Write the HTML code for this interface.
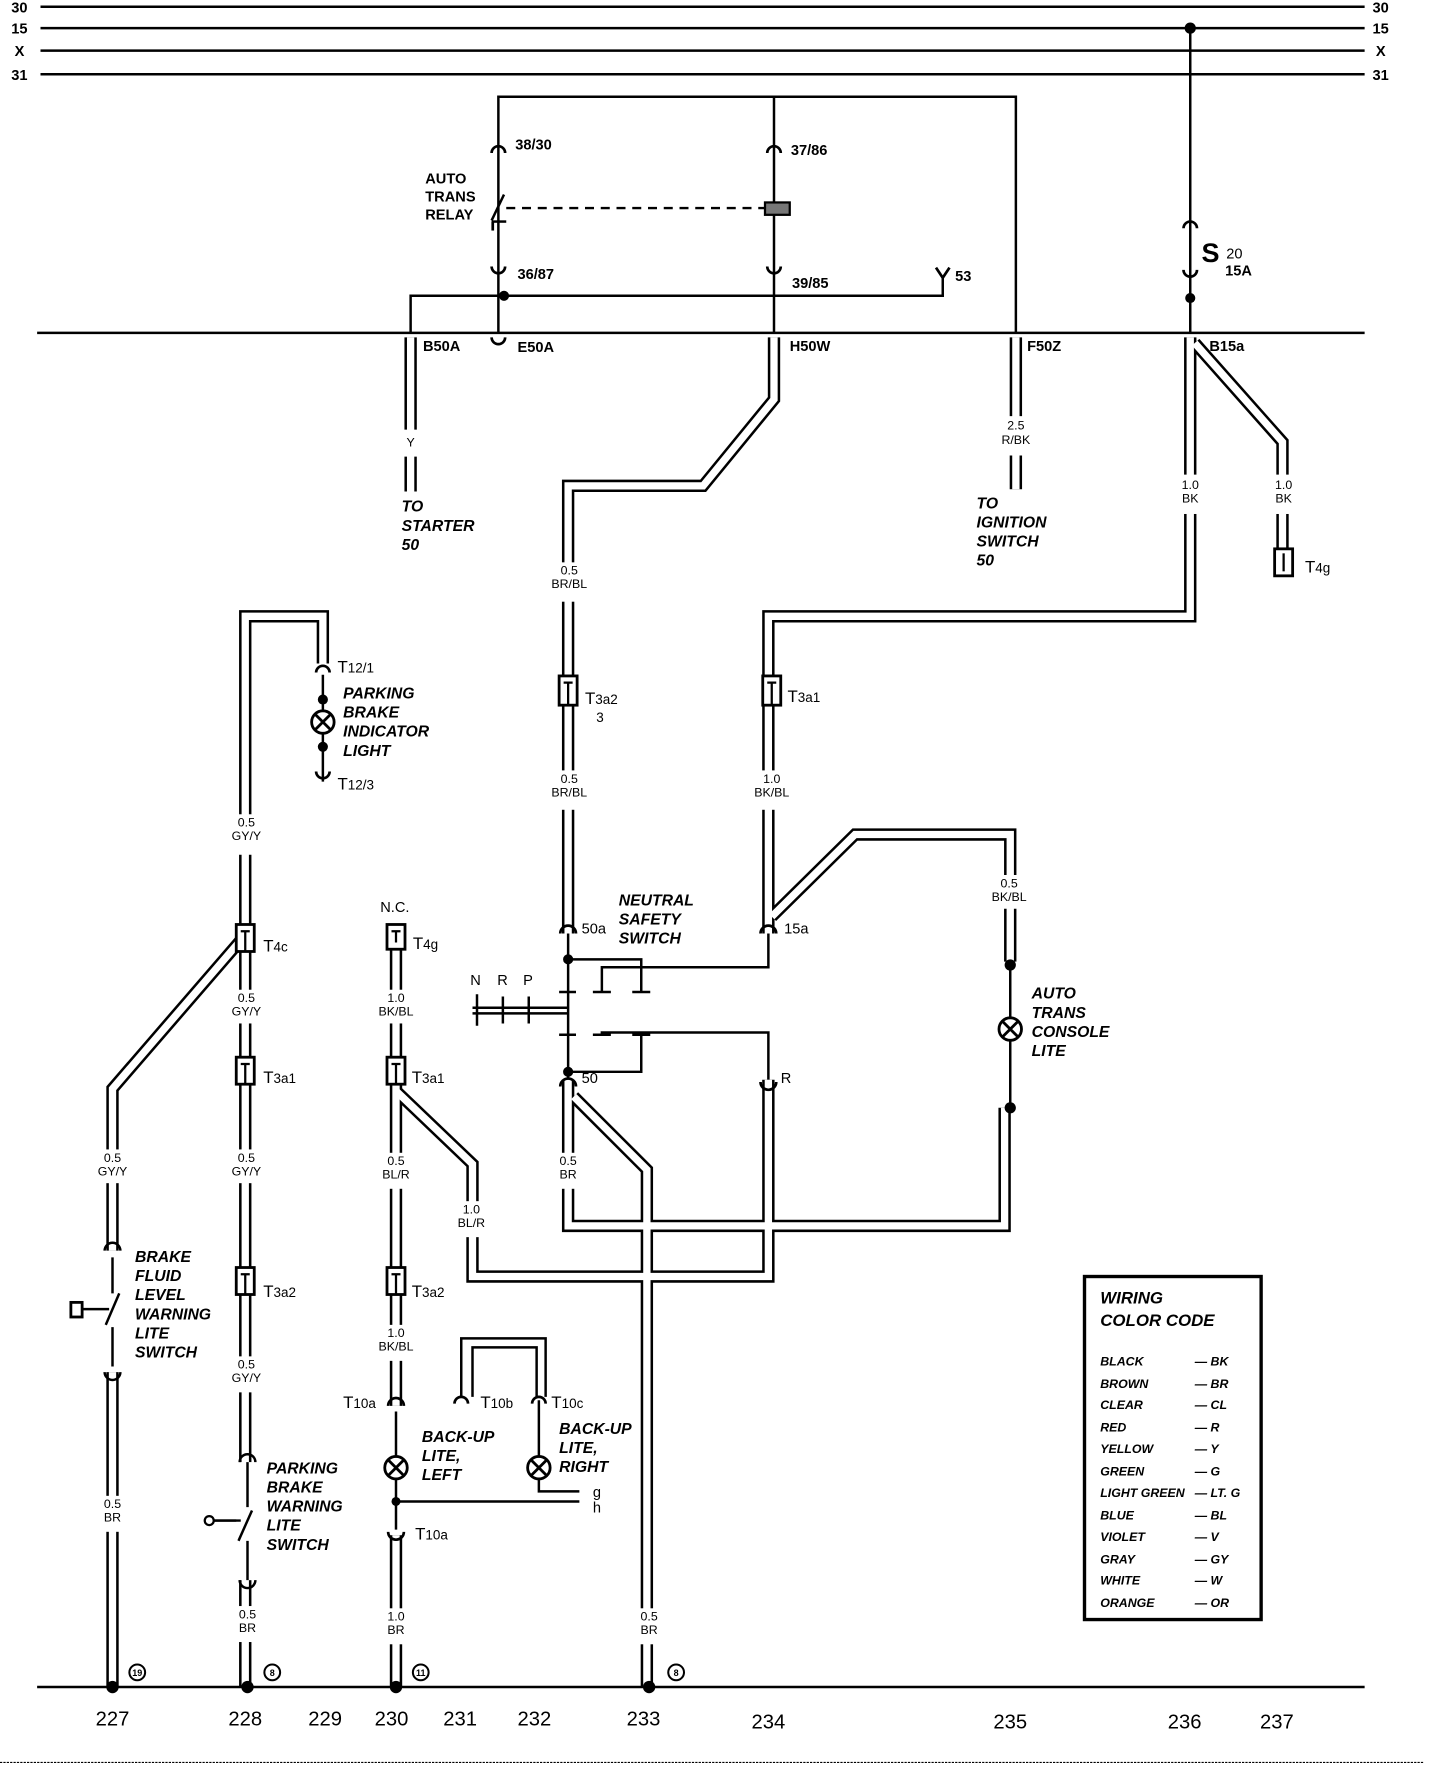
<!DOCTYPE html>
<html><head><meta charset="utf-8"><style>
html,body{margin:0;padding:0;background:#fff}
svg{display:block}
text{font-family:"Liberation Sans",sans-serif;fill:#000}
.b{font-weight:bold}
.i{font-weight:bold;font-style:italic}
.s{font-size:11px}
</style></head><body>
<svg width="1440" height="1768" viewBox="0 0 1280 1572" preserveAspectRatio="none" xmlns="http://www.w3.org/2000/svg">
<rect width="1280" height="1572" fill="#fff"/>
<!-- bus lines -->
<g stroke="#000" stroke-width="2.2" fill="none">
<line x1="36" y1="6" x2="1213" y2="6"/>
<line x1="36" y1="25" x2="1213" y2="25"/>
<line x1="36" y1="45" x2="1213" y2="45"/>
<line x1="36" y1="66" x2="1213" y2="66"/>
<line x1="33" y1="296" x2="1213" y2="296"/>
<line x1="33" y1="1500" x2="1213" y2="1500"/>
</g>
<g class="b" font-size="13">
<text x="10" y="11">30</text><text x="10" y="30">15</text><text x="13" y="50">X</text><text x="10" y="71">31</text>
<text x="1220" y="11">30</text><text x="1220" y="30">15</text><text x="1223" y="50">X</text><text x="1220" y="71">31</text>
</g>
<!-- thin single wires -->
<g stroke="#000" stroke-width="2.2" fill="none">
<path d="M443 296 V86 H903 V296"/>
<path d="M688 86 V296"/>
<path d="M365 296 V263 H838 V247"/>
<path d="M1058 25 V296"/>
<line x1="450" y1="185" x2="680" y2="185" stroke-dasharray="8,6"/>
<!-- neutral safety switch -->
<path d="M505 830 V960"/>
<path d="M505 853 H570 V882"/>
<path d="M683 830 V860 H535 V882"/>
<path d="M505 953 H570 V920"/>
<path d="M683 960 V918 H535 V920"/>
<path d="M527 882 H543 M562 882 H578 M527 920 H543 M562 920 H578"/>
<path d="M497 882 H512 M497 920 H512"/>
<path d="M420 896 H505 M420 901 H505"/>
<path d="M424 884 V912 M447 886 V910 M470 886 V910"/>
<!-- T12 light -->
<path d="M287 600 V695"/>
<!-- console lite -->
<path d="M898 855 V985"/>
<!-- backup lites -->
<path d="M352 1255 V1360"/>
<path d="M352 1335 H515"/>
<path d="M479 1245 V1326 H515"/>
<path d="M410 1242 V1190 H485 V1242" />
<path d="M420 1242 V1198 H477 V1242" />
<!-- brake fluid switch -->
<path d="M100 1118 V1150 M100 1180 V1215"/>
<path d="M94 1178 L106 1150"/>
<path d="M72 1164 H97"/>
<!-- parking brake switch -->
<path d="M220 1300 V1340 M220 1370 V1405"/>
<path d="M212 1370 L224 1343"/>
<path d="M190 1352 H214"/>
<!-- relay switch -->
<path d="M437 196 L448 173"/>
<path d="M437 197 H450"/>
</g>
<!-- double wires -->
<g fill="none" stroke-linejoin="miter">
<g stroke="#000" stroke-width="11">
<path d="M365 300 V437"/>
<path d="M688 300 V355 L625 432 H505 V830"/>
<path d="M903 300 V435"/>
<path d="M1058 300 V548 H683 V830"/>
<path d="M1062 305 L1140 393 V490"/>
<path d="M287 590 V548 H218 V1500"/>
<path d="M214 836 L100 968 V1112"/>
<path d="M100 1220 V1500"/>
<path d="M686 815 L760 742 H898 V855"/>
<path d="M505 960 V1090 H893 V985"/>
<path d="M510 975 L575 1040 V1500"/>
<path d="M352 970 L420 1035 V1135 H683 V960"/>
<path d="M352 830 V1250"/>
<path d="M352 1365 V1500"/>
</g>
<g stroke="#fff" stroke-width="6.5">
<path d="M365 300 V437"/>
<path d="M688 300 V355 L625 432 H505 V830"/>
<path d="M903 300 V435"/>
<path d="M1058 300 V548 H683 V830"/>
<path d="M1062 305 L1140 393 V490"/>
<path d="M287 590 V548 H218 V1500"/>
<path d="M214 836 L100 968 V1112"/>
<path d="M100 1220 V1500"/>
<path d="M686 815 L760 742 H898 V855"/>
<path d="M505 960 V1090 H893 V985"/>
<path d="M510 975 L575 1040 V1500"/>
<path d="M352 970 L420 1035 V1135 H683 V960"/>
<path d="M352 830 V1250"/>
<path d="M352 1365 V1500"/>
</g>
</g>
<!-- parking brake switch double wire (218) gap -->
<rect x="210" y="1300" width="16" height="105" fill="#fff"/>
<g stroke="#000" stroke-width="2.2" fill="none">
<path d="M220 1300 V1340 M220 1370 V1405"/>
<path d="M212 1370 L224 1343"/>
<path d="M190 1352 H214"/>
<path d="M213 1300 a7 7 0 0 1 14 0"/><path d="M213 1405 a7 7 0 0 0 14 0"/>
<path d="M93 1112 a7 7 0 0 1 14 0"/><path d="M93 1220 a7 7 0 0 0 14 0"/>
</g>
<circle cx="186" cy="1352" r="4" fill="none" stroke="#000" stroke-width="2"/>
<rect x="63" y="1158" width="10" height="13" fill="none" stroke="#000" stroke-width="2.5"/>
<!-- connectors arcs -->
<g stroke="#000" stroke-width="2.4" fill="none">
<path d="M437 136 a6 6 0 0 1 12 0"/><path d="M682 136 a6 6 0 0 1 12 0"/>
<path d="M1052 203 a6 6 0 0 1 12 0"/><path d="M1052 240 a6 6 0 0 0 12 0"/>
<path d="M437 237 a6 6 0 0 0 12 0"/><path d="M682 237 a6 6 0 0 0 12 0"/>
<path d="M832 238 L838 247 L844 238"/>
<path d="M437 300 a6 6 0 0 0 12 0"/>
<path d="M281 598 a6 6 0 0 1 12 0"/><path d="M281 686 a6 6 0 0 0 12 0"/>
<path d="M498 830 a7 7 0 0 1 14 0"/><path d="M676 830 a7 7 0 0 1 14 0"/>
<path d="M498 966 a7 7 0 0 1 14 0"/><path d="M676 962 a7 7 0 0 0 14 0"/>
<path d="M345 1250 a7 7 0 0 1 14 0"/><path d="M345 1362 a7 7 0 0 0 14 0"/>
<path d="M404 1248 a6 6 0 0 1 12 0"/><path d="M473 1248 a6 6 0 0 1 12 0"/>
<path d="M438 197 V205"/>
</g>
<rect x="680" y="180" width="22" height="11" fill="#777" stroke="#000" stroke-width="2"/>
<!-- T connectors -->
<g stroke="#000" stroke-width="2.5" fill="#fff">
<rect x="210" y="822" width="16" height="24"/><rect x="210" y="940" width="16" height="24"/><rect x="210" y="1127" width="16" height="24"/>
<rect x="344" y="822" width="16" height="22"/><rect x="344" y="940" width="16" height="24"/><rect x="344" y="1127" width="16" height="24"/>
<rect x="497" y="601" width="16" height="26"/><rect x="678" y="601" width="16" height="26"/>
<rect x="1133" y="488" width="16" height="24"/>
</g>
<g stroke="#000" stroke-width="2" fill="none">
<path d="M214 828 H222 M218 828 V846"/><path d="M214 946 H222 M218 946 V964"/><path d="M214 1133 H222 M218 1133 V1151"/>
<path d="M348 828 H356 M352 828 V838"/><path d="M348 946 H356 M352 946 V964"/><path d="M348 1133 H356 M352 1133 V1151"/>
<path d="M501 607 H509 M505 607 V627"/><path d="M682 607 H690 M686 607 V627"/>
<path d="M1141 492 V508"/>
</g>
<!-- dots -->
<g fill="#000">
<circle cx="1058" cy="25" r="5"/><circle cx="1058" cy="265" r="4.5"/><circle cx="448" cy="263" r="4.5"/>
<circle cx="505" cy="853" r="4.5"/><circle cx="505" cy="953" r="4.5"/>
<circle cx="287" cy="622" r="4.5"/><circle cx="287" cy="664" r="4.5"/>
<circle cx="898" cy="858" r="5"/><circle cx="898" cy="985" r="5"/>
<circle cx="352" cy="1335" r="4"/>
<circle cx="100" cy="1500" r="5.5"/><circle cx="220" cy="1500" r="5.5"/><circle cx="352" cy="1500" r="5.5"/><circle cx="577" cy="1500" r="5.5"/>
</g>
<!-- lamps -->
<g stroke="#000" stroke-width="2.5" fill="#fff">
<circle cx="287" cy="642" r="10"/><circle cx="898" cy="915" r="10"/><circle cx="352" cy="1305" r="10"/><circle cx="479" cy="1305" r="10"/>
</g>
<g stroke="#000" stroke-width="2.5">
<path d="M280 635 L294 649 M294 635 L280 649"/><path d="M891 908 L905 922 M905 908 L891 922"/>
<path d="M345 1298 L359 1312 M359 1298 L345 1312"/><path d="M472 1298 L486 1312 M486 1298 L472 1312"/>
</g>
<!-- circled numbers -->
<g stroke="#000" stroke-width="1.8" fill="#fff">
<circle cx="122" cy="1487" r="7"/><circle cx="242" cy="1487" r="7"/><circle cx="374" cy="1487" r="7"/><circle cx="601" cy="1487" r="7"/>
</g>
<g font-size="8" class="b" text-anchor="middle">
<text x="122" y="1490">19</text><text x="242" y="1490">8</text><text x="374" y="1490">11</text><text x="601" y="1490">8</text>
</g>
<!-- wire labels with white bg -->
<g fill="#fff">
<rect x="356" y="382" width="20" height="24"/>
<rect x="888" y="370" width="30" height="35"/>
<rect x="1045" y="422" width="28" height="35"/><rect x="1128" y="422" width="28" height="35"/>
<rect x="490" y="500" width="32" height="35"/><rect x="490" y="685" width="32" height="35"/>
<rect x="670" y="685" width="32" height="35"/><rect x="880" y="778" width="35" height="30"/>
<rect x="200" y="724" width="38" height="36"/><rect x="200" y="880" width="38" height="30"/>
<rect x="200" y="1022" width="38" height="30"/><rect x="200" y="1206" width="38" height="32"/>
<rect x="200" y="1428" width="38" height="32"/><rect x="80" y="1022" width="38" height="30"/>
<rect x="83" y="1330" width="34" height="32"/><rect x="332" y="880" width="40" height="30"/>
<rect x="335" y="1025" width="35" height="32"/><rect x="332" y="1178" width="40" height="32"/>
<rect x="338" y="1430" width="30" height="32"/><rect x="402" y="1068" width="35" height="32"/>
<rect x="490" y="1025" width="32" height="32"/><rect x="562" y="1430" width="30" height="32"/>
</g>
<g class="s" text-anchor="middle">
<text x="365" y="397">Y</text>
<text x="903" y="382">2.5</text><text x="903" y="395">R/BK</text>
<text x="1058" y="435">1.0</text><text x="1058" y="447">BK</text>
<text x="1141" y="435">1.0</text><text x="1141" y="447">BK</text>
<text x="506" y="511">0.5</text><text x="506" y="523">BR/BL</text>
<text x="506" y="696">0.5</text><text x="506" y="708">BR/BL</text>
<text x="686" y="696">1.0</text><text x="686" y="708">BK/BL</text>
<text x="897" y="789">0.5</text><text x="897" y="801">BK/BL</text>
<text x="219" y="735">0.5</text><text x="219" y="747">GY/Y</text>
<text x="219" y="891">0.5</text><text x="219" y="903">GY/Y</text>
<text x="219" y="1033">0.5</text><text x="219" y="1045">GY/Y</text>
<text x="219" y="1217">0.5</text><text x="219" y="1229">GY/Y</text>
<text x="220" y="1439">0.5</text><text x="220" y="1451">BR</text>
<text x="100" y="1033">0.5</text><text x="100" y="1045">GY/Y</text>
<text x="100" y="1341">0.5</text><text x="100" y="1353">BR</text>
<text x="352" y="891">1.0</text><text x="352" y="903">BK/BL</text>
<text x="352" y="1036">0.5</text><text x="352" y="1048">BL/R</text>
<text x="352" y="1189">1.0</text><text x="352" y="1201">BK/BL</text>
<text x="352" y="1441">1.0</text><text x="352" y="1453">BR</text>
<text x="419" y="1079">1.0</text><text x="419" y="1091">BL/R</text>
<text x="505" y="1036">0.5</text><text x="505" y="1048">BR</text>
<text x="577" y="1441">0.5</text><text x="577" y="1453">BR</text>
</g>
<!-- connector labels -->
<g class="b" font-size="13">
<text x="458" y="133">38/30</text><text x="703" y="138">37/86</text>
<text x="460" y="248">36/87</text><text x="704" y="256">39/85</text><text x="849" y="250">53</text>
<text x="376" y="312">B50A</text><text x="460" y="313">E50A</text><text x="702" y="312">H50W</text><text x="913" y="312">F50Z</text><text x="1075" y="312">B15a</text>
<text x="378" y="163">AUTO</text><text x="378" y="179">TRANS</text><text x="378" y="195">RELAY</text>
<text x="1089" y="245">15A</text>
</g>
<text x="1068" y="233" class="b" font-size="24">S</text><text x="1090" y="230" font-size="13">20</text>
<g font-size="15">
<text x="300" y="598">T<tspan font-size="12">12/1</tspan></text>
<text x="300" y="702">T<tspan font-size="12">12/3</tspan></text>
<text x="1160" y="509">T<tspan font-size="12">4g</tspan></text>
<text x="520" y="626">T<tspan font-size="12">3a2</tspan></text><text x="530" y="642" font-size="12">3</text>
<text x="700" y="624">T<tspan font-size="12">3a1</tspan></text>
<text x="234" y="846">T<tspan font-size="12">4c</tspan></text>
<text x="234" y="963">T<tspan font-size="12">3a1</tspan></text>
<text x="234" y="1153">T<tspan font-size="12">3a2</tspan></text>
<text x="367" y="844">T<tspan font-size="12">4g</tspan></text>
<text x="366" y="963">T<tspan font-size="12">3a1</tspan></text>
<text x="366" y="1153">T<tspan font-size="12">3a2</tspan></text>
<text x="305" y="1252">T<tspan font-size="12">10a</tspan></text>
<text x="369" y="1369">T<tspan font-size="12">10a</tspan></text>
<text x="427" y="1252">T<tspan font-size="12">10b</tspan></text>
<text x="490" y="1252">T<tspan font-size="12">10c</tspan></text>
</g>
<g font-size="13">
<text x="517" y="830">50a</text><text x="697" y="830">15a</text><text x="517" y="963">50</text><text x="694" y="963">R</text>
<text x="338" y="811">N.C.</text>
<text x="418" y="876">N</text><text x="442" y="876">R</text><text x="465" y="876">P</text>
<text x="527" y="1331">g</text><text x="527" y="1345">h</text>
</g>
<g class="i" font-size="14">
<text x="357" y="455">TO</text><text x="357" y="472">STARTER</text><text x="357" y="489">50</text>
<text x="868" y="452">TO</text><text x="868" y="469">IGNITION</text><text x="868" y="486">SWITCH</text><text x="868" y="503">50</text>
<text x="305" y="621">PARKING</text><text x="305" y="638">BRAKE</text><text x="305" y="655">INDICATOR</text><text x="305" y="672">LIGHT</text>
<text x="550" y="805">NEUTRAL</text><text x="550" y="822">SAFETY</text><text x="550" y="839">SWITCH</text>
<text x="917" y="888">AUTO</text><text x="917" y="905">TRANS</text><text x="917" y="922">CONSOLE</text><text x="917" y="939">LITE</text>
<text x="120" y="1122">BRAKE</text><text x="120" y="1139">FLUID</text><text x="120" y="1156">LEVEL</text><text x="120" y="1173">WARNING</text><text x="120" y="1190">LITE</text><text x="120" y="1207">SWITCH</text>
<text x="237" y="1310">PARKING</text><text x="237" y="1327">BRAKE</text><text x="237" y="1344">WARNING</text><text x="237" y="1361">LITE</text><text x="237" y="1378">SWITCH</text>
<text x="375" y="1282">BACK-UP</text><text x="375" y="1299">LITE,</text><text x="375" y="1316">LEFT</text>
<text x="497" y="1275">BACK-UP</text><text x="497" y="1292">LITE,</text><text x="497" y="1309">RIGHT</text>
</g>
<!-- legend -->
<rect x="964" y="1135" width="157" height="305" fill="none" stroke="#000" stroke-width="3"/>
<g class="i" font-size="15"><text x="978" y="1159">WIRING</text><text x="978" y="1179">COLOR CODE</text></g>
<g class="i" font-size="11">
<text x="978" y="1214">BLACK</text><text x="1062" y="1214">— BK</text>
<text x="978" y="1234">BROWN</text><text x="1062" y="1234">— BR</text>
<text x="978" y="1253">CLEAR</text><text x="1062" y="1253">— CL</text>
<text x="978" y="1273">RED</text><text x="1062" y="1273">— R</text>
<text x="978" y="1292">YELLOW</text><text x="1062" y="1292">— Y</text>
<text x="978" y="1312">GREEN</text><text x="1062" y="1312">— G</text>
<text x="978" y="1331">LIGHT GREEN</text><text x="1062" y="1331">— LT. G</text>
<text x="978" y="1351">BLUE</text><text x="1062" y="1351">— BL</text>
<text x="978" y="1370">VIOLET</text><text x="1062" y="1370">— V</text>
<text x="978" y="1390">GRAY</text><text x="1062" y="1390">— GY</text>
<text x="978" y="1409">WHITE</text><text x="1062" y="1409">— W</text>
<text x="978" y="1429">ORANGE</text><text x="1062" y="1429">— OR</text>
</g>
<!-- bottom numbers -->
<g font-size="18" text-anchor="middle">
<text x="100" y="1534">227</text><text x="218" y="1534">228</text><text x="289" y="1534">229</text><text x="348" y="1534">230</text><text x="409" y="1534">231</text><text x="475" y="1534">232</text><text x="572" y="1534">233</text><text x="683" y="1537">234</text><text x="898" y="1537">235</text><text x="1053" y="1537">236</text><text x="1135" y="1537">237</text>
</g>
<line x1="0" y1="1567" x2="1265" y2="1567" stroke="#000" stroke-width="1" stroke-dasharray="2,1"/>
</svg>
</body></html>
